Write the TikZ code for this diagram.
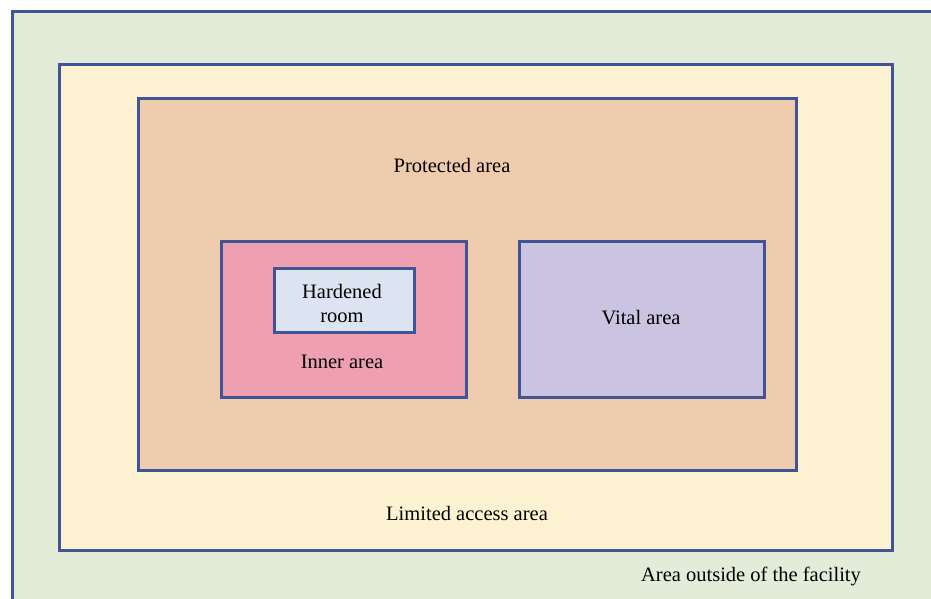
\documentclass[tikz,border=0pt]{standalone}
\usepackage{fontspec}
\setmainfont{Liberation Serif}

\definecolor{edgeblue}{RGB}{64,84,150}
\definecolor{outsidegreen}{RGB}{227,236,217}
\definecolor{limitedcream}{RGB}{252,241,208}
\definecolor{protectedtan}{RGB}{240,204,175}
\definecolor{innerpink}{RGB}{238,160,176}
\definecolor{hardenedblue}{RGB}{220,227,241}
\definecolor{vitallilac}{RGB}{202,196,226}

\tikzset{
  zone/.style={draw=edgeblue, line width=3pt, line join=miter},
  zonelabel/.style={inner sep=0pt, align=center, font=\fontsize{20.5}{24}\selectfont}
}

\begin{document}
\begin{tikzpicture}[x=1pt, y=-1pt]

  %% ==== canvas ====
  \path[use as bounding box] (0,0) rectangle (931,599);
  \fill[white] (0,0) rectangle (931,599);
  \clip (0,0) rectangle (931,599);

  %% ==== areas, outside in ====
  \draw[zone, fill=outsidegreen] (12,12) rectangle (950,620);
  \draw[zone, fill=limitedcream] (59,65) rectangle (892,550);
  \draw[zone, fill=protectedtan] (138,99) rectangle (796,470);
  \draw[zone, fill=innerpink] (221,241) rectangle (466,397);
  \draw[zone, fill=hardenedblue] (274,268) rectangle (414,332);
  \draw[zone, fill=vitallilac] (519,241) rectangle (764,397);

  %% ==== labels ====
  \node[zonelabel] (protected) at (452,165) {Protected area};
  \node[zonelabel] (hardened) at (342,303) {Hardened\\room};
  \node[zonelabel] (inner) at (342,362) {Inner area};
  \node[zonelabel] (vital) at (641,318) {Vital area};
  \node[zonelabel] (limited) at (467,513) {Limited access area};
  \node[zonelabel] (outside) at (751,576) {Area outside of the facility};
\end{tikzpicture}
\end{document}
